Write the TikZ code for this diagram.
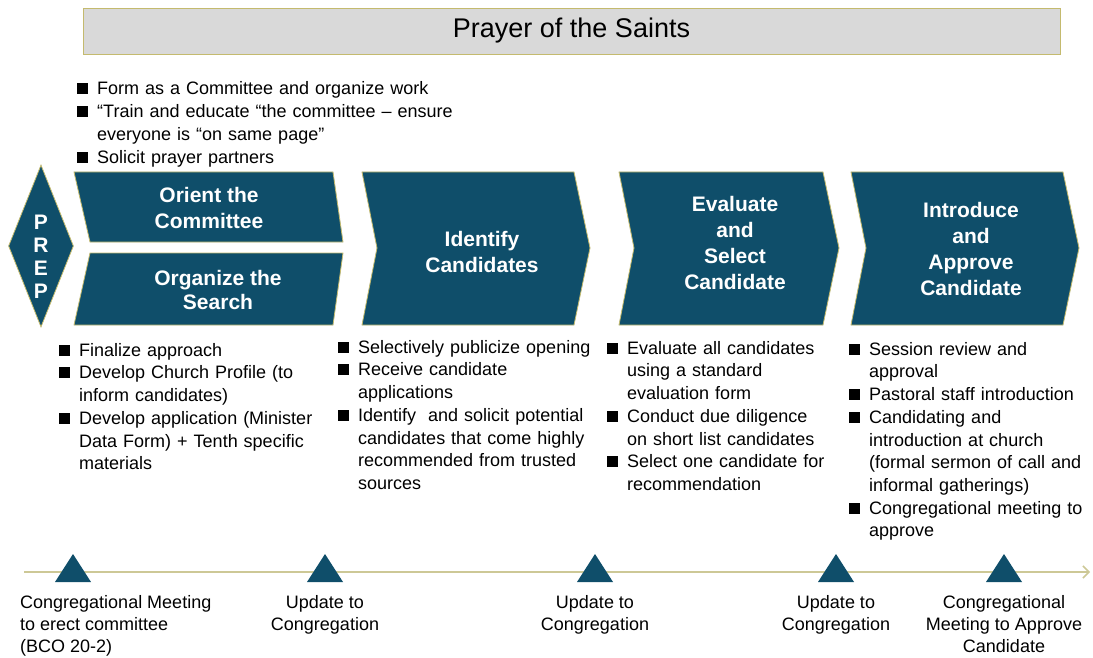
\documentclass[tikz,border=0pt]{standalone}
\usepackage{fontspec}
\setmainfont{Liberation Sans}
\usetikzlibrary{shapes.geometric,arrows.meta,positioning}
\definecolor{stageblue}{RGB}{15,78,106}
\definecolor{rimgold}{RGB}{196,186,110}
\definecolor{titlegray}{RGB}{217,217,217}
\definecolor{lineolive}{RGB}{205,200,150}
\newcommand\bitem{\noindent\hangindent=20pt\hangafter=1\makebox[20pt][l]{\rule[0.5pt]{11pt}{11pt}}}

\begin{document}
\begin{tikzpicture}[x=1pt,y=-1pt,
  chev/.style={fill=stageblue,draw=rimgold,line width=0.8pt},
  stagetext/.style={text=white,font=\bfseries\fontsize{21}{26}\selectfont,align=center,inner sep=0pt},
  blist/.style={anchor=north west,inner sep=0pt,text width=420pt,align=left,font=\fontsize{18}{22.7}\selectfont},
  mlabel/.style={align=center,inner sep=0pt,font=\fontsize{18}{22}\selectfont},
  timeline/.style={draw=lineolive,line width=1.5pt,-{Straight Barb[length=6pt,width=12pt]}}]
\useasboundingbox (0,0) rectangle (1093,658);
\node[draw=rimgold,fill=titlegray,line width=0.8pt,minimum width=977pt,minimum height=46pt,inner sep=0pt,font=\fontsize{27}{30}\selectfont] (title) at (571.5,31) {Prayer of the Saints};

\node[blist] (prepitems) at (77,81.7) {\bitem Form as a Committee and organize work
\par\bitem “Train and educate “the committee – ensure\newline everyone is “on same page”
\par\bitem Solicit prayer partners\par};

\node[chev,diamond,minimum width=65pt,minimum height=162pt,inner sep=0pt] (prep) at (41,246) {};
\node[stagetext,font=\bfseries\fontsize{21}{23}\selectfont] (preptext) at (41,257) {P\\R\\E\\P};

\draw[chev] (74,172) -- (333,172) -- (343,242) -- (90,242) -- cycle;
\draw[chev] (90,253) -- (343,253) -- (333,325) -- (74,325) -- cycle;
\node[stagetext] (orient) at (209,208) {Orient the\\Committee};
\node[stagetext,font=\bfseries\fontsize{21}{24}\selectfont] (organize) at (218,290) {Organize the\\Search};

\foreach \name/\xl/\xr/\ty/\txt in {ident/362/574/252/{Identify\\Candidates},
    evalsel/619/823/243/{Evaluate\\and\\Select\\Candidate},
    intro/851/1063/249/{Introduce\\and\\Approve\\Candidate}}{
  \draw[chev] (\xl,172) -- (\xr,172) -- (\xr+16,248) -- (\xr,325) -- (\xl,325) -- (\xl+15,248) -- cycle;
  \node[stagetext] (\name) at ({(\xl+\xr)/2+14},\ty) {\txt};
}

\node[blist] (orgitems) at (59,343) {\bitem Finalize approach
\par\bitem Develop Church Profile (to\newline inform candidates)
\par\bitem Develop application (Minister\newline Data Form) + Tenth specific\newline materials\par};
\node[blist] (identitems) at (338,340) {\bitem Selectively publicize opening
\par\bitem Receive candidate\newline applications
\par\bitem Identify \ and solicit potential\newline candidates that come highly\newline recommended from trusted\newline sources\par};
\node[blist] (evalitems) at (607,341) {\bitem Evaluate all candidates\newline using a standard\newline evaluation form
\par\bitem Conduct due diligence\newline on short list candidates
\par\bitem Select one candidate for\newline recommendation\par};
\node[blist] (introitems) at (849,342) {\bitem Session review and\newline approval
\par\bitem Pastoral staff introduction
\par\bitem Candidating and\newline introduction at church\newline (formal sermon of call and\newline informal gatherings)
\par\bitem Congregational meeting to\newline approve\par};

\coordinate (tstart) at (24,572);
\coordinate (tend) at (1090,572);
\draw[timeline] (tstart) -- (tend);
\foreach \x/\name in {73/m1,325/m2,595/m3,836/m4,1004/m5}{
  \fill[stageblue] (\x-18,582) -- (\x+18,582) -- (\x,554) -- cycle;
  \coordinate (\name) at (\x,582);
}
\node[mlabel,anchor=north west,align=left] (erect) at (20,595.5) {Congregational Meeting\\to erect committee\\(BCO 20-2)};
\node[mlabel,below=13.5pt of m2] (update1) {Update to\\Congregation};
\node[mlabel,below=13.5pt of m3] (update2) {Update to\\Congregation};
\node[mlabel,below=13.5pt of m4] (update3) {Update to\\Congregation};
\node[mlabel,below=13.5pt of m5] (approve) {Congregational\\Meeting to Approve\\Candidate};
\end{tikzpicture}
\end{document}
